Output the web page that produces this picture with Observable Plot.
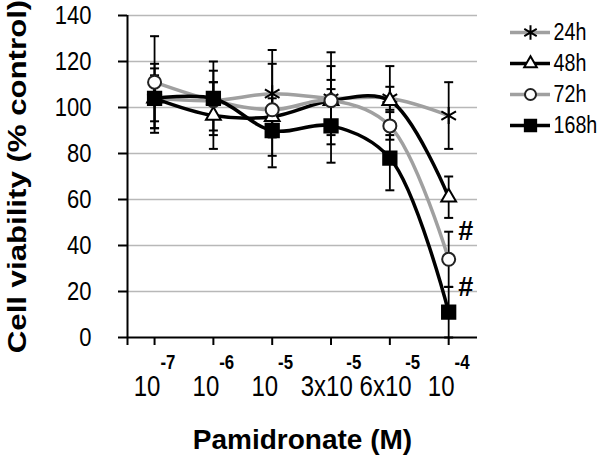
<!DOCTYPE html>
<html><head><meta charset="utf-8">
<script src="https://cdn.jsdelivr.net/npm/d3@7"></script>
<script src="https://cdn.jsdelivr.net/npm/@observablehq/plot@0.6"></script>
<style>
body{margin:0;background:#fff;}
#wrap{position:relative;width:600px;height:455px;font-family:"Liberation Sans",Arial,sans-serif;}
#legend{position:absolute;left:490px;top:0;}
svg{overflow:visible}
</style></head><body><div id="wrap"><div id="chart"></div><div id="legend"></div></div>
<script>
// ---- data ----
const doses = ["10^-7","10^-6","10^-5","3x10^-5","6x10^-5","10^-4"];
const seriesNames = ["24h","48h","72h","168h"];
const v24  = [104, 103, 106, 104, 104, 96.5];
const e24  = [15, 8, 19, 20, 5, 14.5];
const v48  = [104, 96.5, 96, 103, 103, 61];
const e48  = [13, 14.5, 8, 9, 15, 9];
const v72  = [111, 103, 99, 103, 92, 34];
const e72  = [20, 13, 20, 15, 6, 12];
const v168 = [104, 104, 90, 92, 78, 11];
const e168 = [10, 16, 16, 16, 14, 11];
const yTicks = [0, 20, 40, 60, 80, 100, 120, 140];
const hashNotes = [{series:"72h", dose:5, value:46, label:"#"}, {series:"168h", dose:5, value:22, label:"#"}];

// ---- styling ----
const seriesColors  = ["#a0a0a0", "#000000", "#a0a0a0", "#000000"];
const seriesSymbols = ["asterisk", "triangle", "circle", "square"];
const seriesFills   = ["none", "#ffffff", "#ffffff", "#000000"];
const seriesMarkStroke = ["#000000", "#000000", "#222222", "#000000"];
const seriesR = [8, 5.5, 6.5, 7.5];

const values = [v24, v48, v72, v168];
const errors = [e24, e48, e72, e168];
const rows = [];
seriesNames.forEach((s, i) => values[i].forEach((v, j) => rows.push({series: s, dose: j, value: v, err: errors[i][j]})));

const capSymbol = {draw(ctx, size) { const w = Math.sqrt(size / Math.PI); ctx.moveTo(-w, 0); ctx.lineTo(w, 0); }};
const xMin = -0.46, xMax = 5.49;

const chart = Plot.plot({
  width: 600, height: 455,
  marginLeft: 127, marginRight: 123, marginTop: 15, marginBottom: 118,
  style: {fontFamily: '"Liberation Sans", Arial, sans-serif', color: "#000", background: "#fff"},
  x: {type: "linear", domain: [xMin, xMax]},
  y: {domain: [0, 140]},
  color: {domain: seriesNames, range: seriesColors},
  marks: [
    Plot.gridY(yTicks.filter(t => t > 0), {stroke: "#b8b8b8", strokeOpacity: 1, strokeWidth: 1.5}),
    Plot.axisY(yTicks, {tickSize: 9, tickPadding: 27, fontSize: 25, strokeWidth: 2, label: "Cell viability (% control)", labelAnchor: "center", labelArrow: "none", labelOffset: 120}),
    Plot.axisX(d3.range(doses.length), {tickSize: 8, tickPadding: 29, fontSize: 30, strokeWidth: 2, tickFormat: i => doses[i], label: "Pamidronate (M)", labelAnchor: "center", labelArrow: "none", labelOffset: 111}),
    Plot.ruleY([0], {stroke: "#000", strokeWidth: 2}),
    Plot.ruleX([xMin], {stroke: "#000", strokeWidth: 2, insetBottom: -8}),
    Plot.ruleX(rows, {x: "dose", y1: d => d.value - d.err, y2: d => d.value + d.err, stroke: "#000", strokeWidth: 1.8}),
    Plot.dot(rows, {x: "dose", y: d => d.value + d.err, symbol: capSymbol, r: 4.5, stroke: "#000", strokeWidth: 2, fill: "none"}),
    Plot.dot(rows, {x: "dose", y: d => d.value - d.err, symbol: capSymbol, r: 4.5, stroke: "#000", strokeWidth: 2, fill: "none"}),
    ...seriesNames.map((s, i) => Plot.line(rows.filter(d => d.series === s), {x: "dose", y: "value", stroke: "series", strokeWidth: 3.5, curve: "catmull-rom"})),
    ...seriesNames.map((s, i) => Plot.dot(rows.filter(d => d.series === s), {x: "dose", y: "value", symbol: seriesSymbols[i], r: seriesR[i], fill: seriesFills[i], stroke: seriesMarkStroke[i], strokeWidth: 2})),
    Plot.text(hashNotes, {x: "dose", y: "value", text: "label", dx: 17, fontSize: 27, fontWeight: "bold"})
  ]
});
document.getElementById("chart").appendChild(chart);

function squeeze(sel, sx, sy) {
  sel.each(function() {
    let tr = this.getAttribute("transform");
    if (!tr) {
      const x = this.getAttribute("x") || 0, y = this.getAttribute("y") || 0;
      this.removeAttribute("x"); this.removeAttribute("y");
      tr = `translate(${x},${y})`;
    }
    this.setAttribute("transform", `${tr} scale(${sx},${sy})`);
  });
}

// superscript exponents in x tick labels
const xt = d3.select(chart).selectAll('[aria-label="x-axis tick label"] text');
xt.each(function() {
  const t = d3.select(this);
  const parts = t.text().split("^");
  t.text(null);
  t.append("tspan").text(parts[0]);
  t.append("tspan").attr("dy", -27).attr("dx", parts[0].length > 2 ? -8 : 0)
    .style("font-size", "21px").style("font-weight", "bold").text(parts[1]);
});
squeeze(xt, 0.8, 1);
squeeze(d3.select(chart).selectAll('[aria-label="y-axis tick label"] text'), 0.88, 1);
const yl = d3.select(chart).selectAll('[aria-label="y-axis label"] text').attr("font-weight", "bold").attr("font-size", 26);
squeeze(yl, 1.2, 1);
d3.select(chart).selectAll('[aria-label="x-axis label"] text').attr("font-weight", "bold").attr("font-size", 28);

// legend
const legend = Plot.plot({
  width: 110, height: 160,
  marginLeft: 20, marginRight: 50, marginTop: 15, marginBottom: 18,
  style: {fontFamily: '"Liberation Sans", Arial, sans-serif', color: "#000", background: "transparent"},
  x: {domain: [0, 1], axis: null},
  y: {type: "point", domain: seriesNames, axis: null},
  marks: [
    ...seriesNames.map((s, i) => Plot.ruleY([s], {y: d => d, stroke: seriesColors[i], strokeWidth: 3.5})),
    ...seriesNames.map((s, i) => Plot.dot([s], {y: d => d, frameAnchor: "middle", symbol: seriesSymbols[i], r: seriesR[i] * 0.85, fill: seriesFills[i], stroke: seriesMarkStroke[i], strokeWidth: 2})),
    Plot.text(seriesNames, {y: d => d, text: d => d, frameAnchor: "right", textAnchor: "start", dx: 3, fontSize: 24})
  ]
});
document.getElementById("legend").appendChild(legend);
squeeze(d3.select(legend).selectAll('text'), 0.82, 1);
</script></body></html>
